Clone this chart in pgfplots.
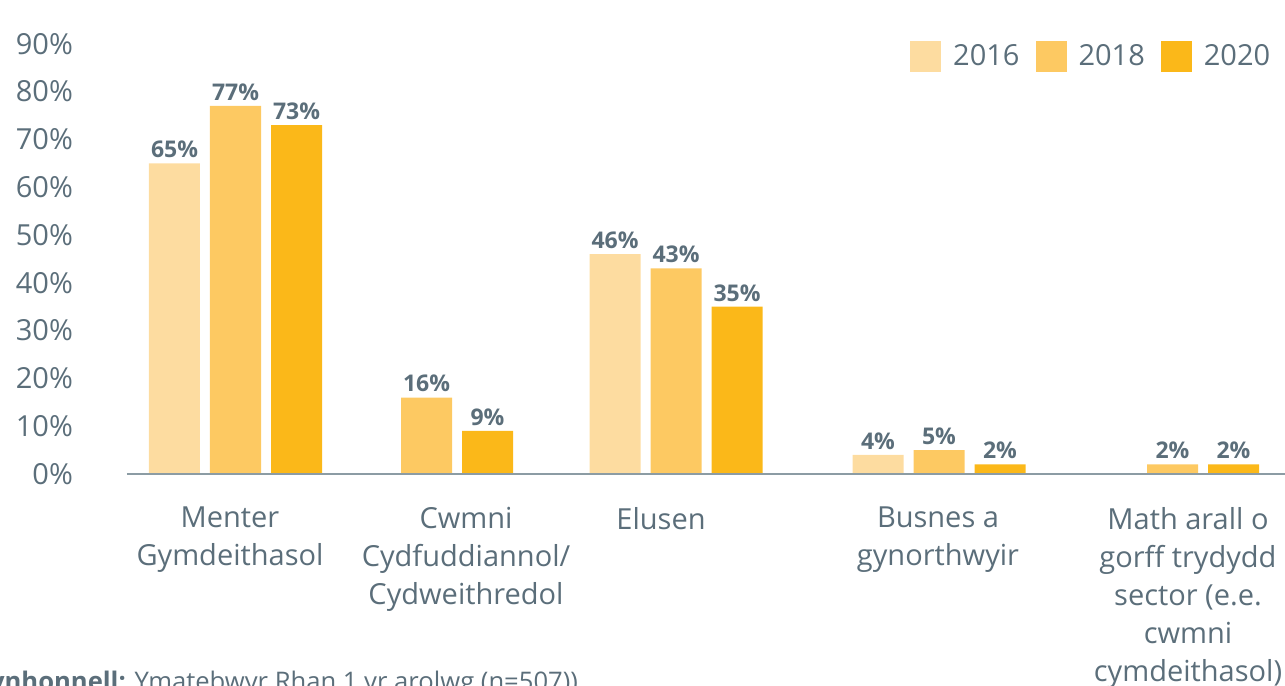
\documentclass[border=0pt]{standalone}
\usepackage{fontspec}
\setmainfont{Open Sans}
\usepackage{pgfplots}
\pgfplotsset{compat=1.18}

\definecolor{txt}{HTML}{5B6E7A}
\definecolor{axisgray}{HTML}{8C9CA4}
\definecolor{c2016}{HTML}{FDDCA0}
\definecolor{c2018}{HTML}{FDC962}
\definecolor{c2020}{HTML}{FBB819}

\begin{document}
\begin{tikzpicture}
\begin{axis}[
    x=0.5pt, y=2.39pt,
    xmin=127, xmax=1285, ymin=0, ymax=90,
    clip=false,
    axis line style={draw=none},
    major tick length=0pt,
    ybar=5pt, bar width=25.5pt,
    /pgf/number format/assume math mode=true,
    ytick={0,10,...,90},
    yticklabel={\pgfmathprintnumber{\tick}\%},
    yticklabel style={font=\fontsize{14.5}{17}\selectfont, text=txt, xshift=-23.5pt},
    xtick={230,466,661,938,1188},
    xticklabels={{Menter\\Gymdeithasol},
                 {Cwmni\\Cydfuddiannol/\\Cydweithredol},
                 {Elusen},
                 {Busnes a\\gynorthwyir},
                 {Math arall o\\gorff trydydd\\sector (e.e.\\cwmni\\cymdeithasol)}},
    xticklabel style={font=\fontsize{14.5}{19}\selectfont, text=txt, align=center, yshift=-13pt},
    nodes near coords={\pgfmathprintnumber{\pgfplotspointmeta}\%},
    nodes near coords style={font=\bfseries\fontsize{11.5}{13}\selectfont, text=txt, inner sep=2.5pt},
    legend columns=3,
    legend style={at={(rel axis cs:0.991,0.970)}, anchor=east, draw=none, fill=none,
                  inner sep=0pt, font=\fontsize{14.5}{17}\selectfont, text=txt,
                  /tikz/every odd column/.append style={column sep=4pt},
                  /tikz/every even column/.append style={column sep=6pt}},
    legend image code/.code={\fill[#1] (0pt,-7.75pt) rectangle (15.5pt,7.75pt);},
]
% 2016
\addplot[fill=c2016, draw=none] coordinates {
    (235.5,65) (676,46) (939,4)};
% 2018
\addplot[fill=c2018, draw=none] coordinates {
    (235.5,77) (426.5,16) (676,43) (939,5) (1172.5,2)};
% 2020
\addplot[fill=c2020, draw=none] coordinates {
    (235.5,73) (426.5,9) (676,35) (939,2) (1172.5,2)};
\legend{2016, 2018, 2020}
\draw[axisgray, line width=1pt] (axis cs:127,0) -- (axis cs:1285,0);
% source line, cut by the lower edge as in the original
\node[anchor=base east, text=txt, font=\fontsize{12.8}{15}\selectfont]
    at (axis cs:585,-45.2) {\textbf{Ffynhonnell:} Ymatebwyr Rhan 1 yr arolwg (n=507))};
\coordinate (bl) at (axis cs:0,-44.35);
\coordinate (tr) at (axis cs:1285,99.16);
\end{axis}
\pgfresetboundingbox
\path[use as bounding box] (bl) rectangle (tr);
\end{tikzpicture}
\end{document}
